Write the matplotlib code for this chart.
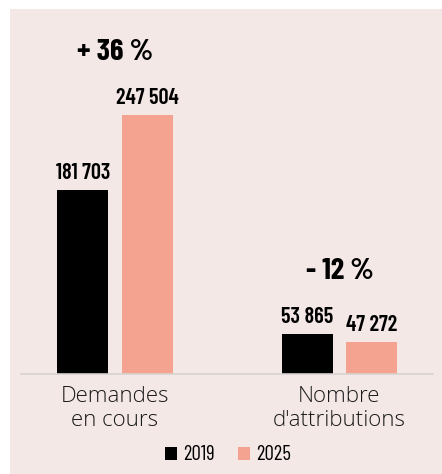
import matplotlib
matplotlib.use('Agg')
import matplotlib.pyplot as plt
from matplotlib.patches import Rectangle

# data
categories = ['Demandes\nen cours', "Nombre\nd'attributions"]
years = ['2019', '2025']
values_2019 = [181703, 53865]
values_2025 = [247504, 47272]
changes = ['+ 36 %', '- 12 %']

BG = '#f3e8e6'
C2019 = '#000000'
C2025 = '#f4a391'
NARROW = ['Barlow Condensed', 'DejaVu Sans']


def fmt(v):
    return f'{v:,}'.replace(',', ' ')


W, H = 442, 474
fig = plt.figure(figsize=(W / 100, H / 100), dpi=100, facecolor='white')
fig.patches.append(Rectangle((10 / W, 0), 1, (H - 9) / H, transform=fig.transFigure,
                             facecolor=BG, edgecolor='none', zorder=-10))

# axes: x from 21 to 433 px, y from baseline 374 to 115 px
ax = fig.add_axes([21 / W, (H - 374) / H, (433 - 21) / W, (374 - 115) / H])
ax.set_facecolor('none')

x = range(len(categories))
width = 0.227
off = 0.144
b1 = ax.bar([i - off for i in x], values_2019, width, color=C2019, label=years[0])
b2 = ax.bar([i + off for i in x], values_2025, width, color=C2025, label=years[1])

ax.set_xlim(-0.419, 1.417)
ax.set_ylim(18800, 247504)

for bars, vals in [(b1, values_2019), (b2, values_2025)]:
    for rect, v in zip(bars, vals):
        ax.annotate(fmt(v), (rect.get_x() + rect.get_width() / 2, v),
                    xytext=(0, 5), textcoords='offset points',
                    ha='center', va='bottom', fontsize=16, fontweight=600,
                    family=NARROW, annotation_clip=False)

# change percentages above each group
for i, txt in enumerate(changes):
    top = max(values_2019[i], values_2025[i])
    ax.annotate(txt, (i, top), xytext=(0, 45), textcoords='offset points',
                ha='center', va='center', fontsize=22, fontweight=700,
                family=NARROW, annotation_clip=False)

for s in ['top', 'right', 'left']:
    ax.spines[s].set_visible(False)
ax.spines['bottom'].set_color('#d8d2d2')
ax.spines['bottom'].set_linewidth(1.2)
ax.set_yticks([])
ax.set_xticks(list(x))
ax.set_xticklabels(categories, fontsize=16, family=['Open Sans', 'DejaVu Sans'],
                   fontweight=300, color='#1a1a1a', linespacing=1.15)
ax.tick_params(axis='x', length=0, pad=9)

fig.legend(handles=[b1, b2], labels=years, loc='center',
           bbox_to_anchor=(228 / W, (H - 455) / H), ncol=2, frameon=False,
           handlelength=0.6, handleheight=0.6, handletextpad=0.3,
           columnspacing=1.1, prop={'family': NARROW, 'size': 15})

fig.savefig('out.png', dpi=100, facecolor='white')
